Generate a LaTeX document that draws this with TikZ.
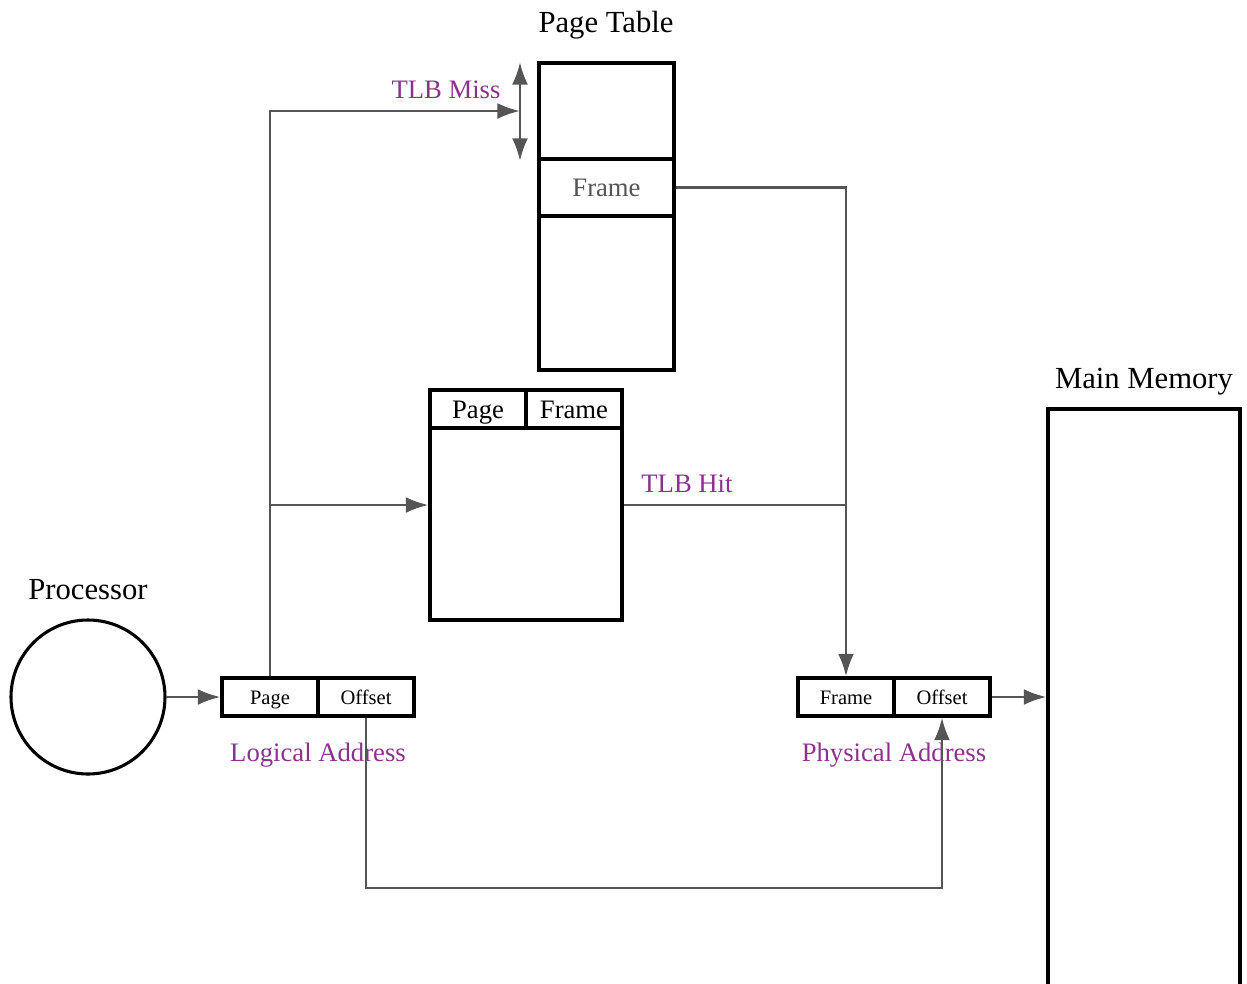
\documentclass[tikz,border=0pt]{standalone}
\usepackage{fontspec}
\setmainfont{Liberation Serif}
\usetikzlibrary{arrows.meta}
\definecolor{conn}{RGB}{85,85,85}
\definecolor{lbl}{RGB}{140,50,140}
\tikzset{
  box/.style={draw=black, line width=2.3pt, inner sep=0pt, fill=white},
  small/.style={font=\fontsize{15.4pt}{18pt}\selectfont, text height=14.8pt, text depth=3.4pt},
  mid/.style={font=\fontsize{20pt}{24pt}\selectfont, text height=18pt, text depth=4.4pt},
  big/.style={font=\fontsize{23pt}{27pt}\selectfont, text height=20.1pt, text depth=5.1pt},
  cell/.style={box, small, minimum width=72pt, minimum height=28.5pt},
  hcell/.style={box, mid, minimum width=72pt, minimum height=28.5pt},
  title/.style={inner sep=0pt, big},
  tag/.style={inner sep=0pt, mid, text=lbl},
  wire/.style={draw=conn, line width=2.1pt},
  tip/.tip={Latex[length=17pt, width=12pt]},
  arr/.style={wire, -tip},
}
\begin{document}
\begin{tikzpicture}[x=0.75pt, y=-0.75pt]
\useasboundingbox (0,0) rectangle (1247,983);
\clip (0,0) rectangle (1247,983);
% processor
\node[draw=black, line width=2.3pt, circle, minimum size=115.5pt, inner sep=0pt] (proc) at (88,697) {};
\node[title] (proct) at (88,589) {Processor};
% logical address
\node[cell] (lpage) at (270,697) {Page};
\node[cell] (loff) at (366,697) {Offset};
\node[tag] (ltag) at (318,752) {Logical Address};
% physical address
\node[cell] (pframe) at (846,697) {Frame};
\node[cell] (poff) at (942,697) {Offset};
\node[tag] (ptag) at (894,752) {Physical Address};
% main memory
\node[box, minimum width=144pt, minimum height=519pt] (mem) at (1144,755) {};
\node[title] (memt) at (1144,378) {Main Memory};
% TLB
\node[box, minimum width=144pt, minimum height=144pt] (tlb) at (526,524) {};
\node[hcell] (tpage) at (478,409) {Page};
\node[hcell] (tframe) at (574,409) {Frame};
% page table
\node[box, minimum width=101.25pt, minimum height=230.25pt] (pt) at (606.5,216.5) {};
\node[box, mid, minimum width=101.25pt, minimum height=42.75pt, text=conn] (ptframe) at (606.5,187.5) {Frame};
\node[title] (ptt) at (606,22) {Page Table};
% TLB miss double arrow
\coordinate (mtop) at (520,62);
\coordinate (mbot) at (520,161);
\coordinate (mmid) at (520,111);
\draw[wire, tip-tip] (mtop) -- (mbot);
\node[tag] (misst) at (446,89) {TLB Miss};
\node[tag] (hitt) at (687,483) {TLB Hit};
% connectors
\draw[arr] (proc.east) -- (lpage.west);
\draw[arr] (poff.east) -- (poff.east -| mem.west);
\draw[arr] (lpage.north) -- (270,111) -- (mmid);
\draw[arr] (270,505) -- (270,505 -| tlb.west);
\draw[wire] (tlb.east |- 0,505) -- (846,505);
\draw[arr] (ptframe.east) -- (846,187.5) -- (pframe.north);
\draw[arr] (loff.south) -- (366,888) -- (942,888) -- (poff.south);
\end{tikzpicture}
\end{document}
